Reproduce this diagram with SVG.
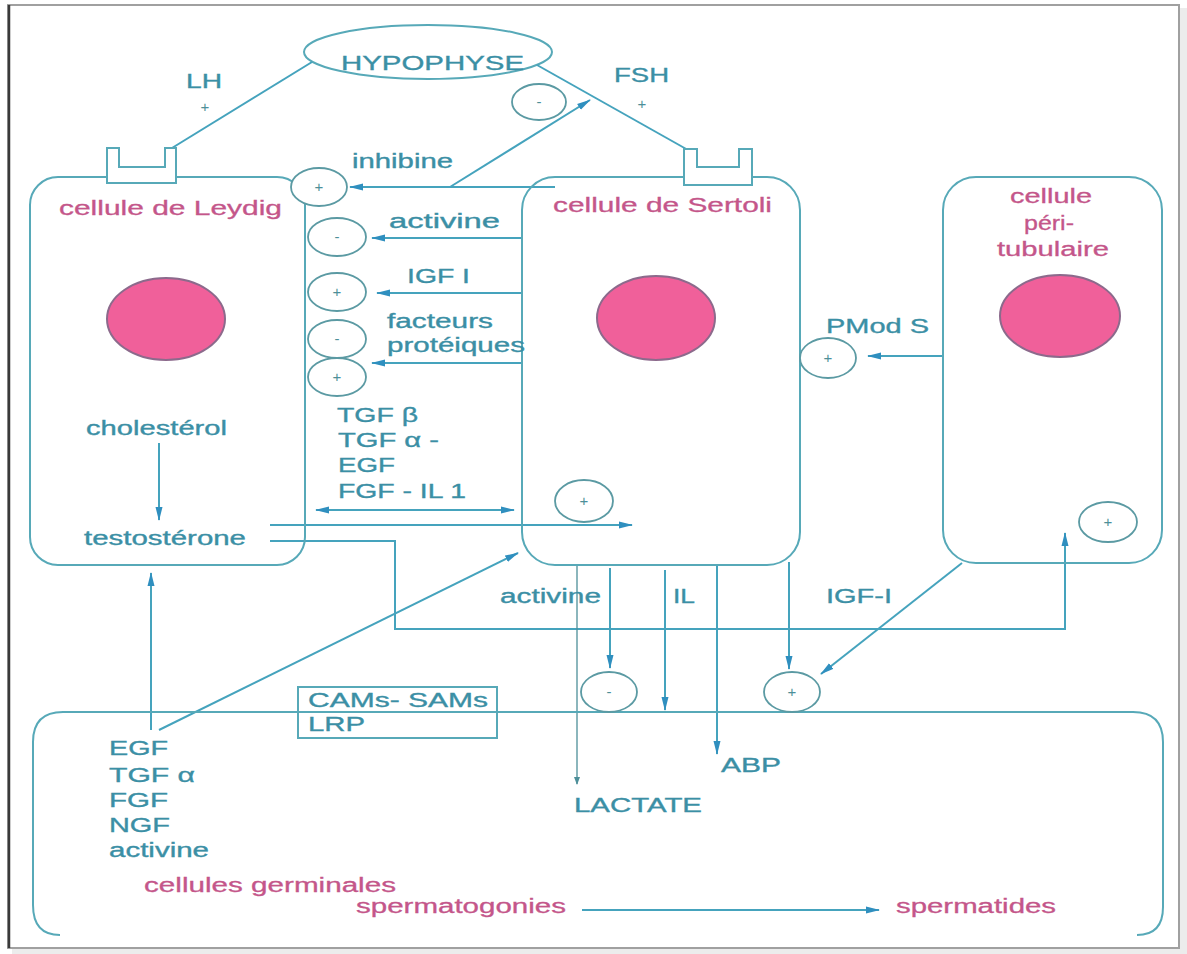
<svg xmlns="http://www.w3.org/2000/svg" width="1187" height="954" viewBox="0 0 1187 954">
<defs>
<style>
.t{font-family:"Liberation Sans",Arial,sans-serif;font-size:20px;fill:#3b8fa5;stroke:#3b8fa5;stroke-width:0.35}
.p{font-family:"Liberation Sans",Arial,sans-serif;font-size:20px;fill:#c4568a;stroke:#c4568a;stroke-width:0.3}
.s{font-family:"Liberation Sans",Arial,sans-serif;font-size:15px;fill:#4d8f99;text-anchor:middle}
.cell{fill:none;stroke:#57a9b8;stroke-width:2}
.ln{fill:none;stroke:#45a3bd;stroke-width:2}
.ar{fill:none;stroke:#45a3bd;stroke-width:2;marker-end:url(#ah)}
.cir{fill:#fff;stroke:#5b9aa3;stroke-width:1.8}
.nuc{fill:#f0609a;stroke:#8c6a8c;stroke-width:2}
</style>
<marker id="ah" markerWidth="14" markerHeight="8" refX="13" refY="4" orient="auto-start-reverse" markerUnits="userSpaceOnUse"><path d="M0,0.5 L14,4 L0,7.5 z" fill="#2f8fbf"/></marker>
<marker id="ahs" markerWidth="8" markerHeight="6" refX="7" refY="3" orient="auto" markerUnits="userSpaceOnUse"><path d="M0,0 L8,3 L0,6 z" fill="#4d8f99"/></marker>
</defs>
<rect x="0" y="0" width="1187" height="954" fill="#fff"/>
<rect x="1180" y="8" width="7" height="946" fill="#ececec"/>
<rect x="12" y="949" width="1175" height="5" fill="#ececec"/>
<rect x="8" y="5" width="1171" height="943" fill="#fff" stroke="#a0a0a0" stroke-width="2"/>
<line x1="9" y1="5" x2="9" y2="948" stroke="#3a3a3a" stroke-width="2.5"/>

<g id="hypophyse">
<ellipse cx="428" cy="52" rx="124" ry="27" class="cell"/>
<text class="t" x="341" y="70" font-size="23" textLength="183" lengthAdjust="spacingAndGlyphs" fill="#33879c">HYPOPHYSE</text>
</g>

<g id="connectors">
<line x1="312" y1="62" x2="172" y2="148" class="ln"/>
<line x1="537" y1="65" x2="688" y2="150" class="ln"/>
<line x1="555" y1="187" x2="350" y2="187" class="ar"/>
<line x1="450" y1="187" x2="590" y2="100" class="ar"/>
<line x1="522" y1="238" x2="372" y2="238" class="ar"/>
<line x1="522" y1="293" x2="377" y2="293" class="ar"/>
<line x1="522" y1="363" x2="372" y2="363" class="ar"/>
<line x1="316" y1="510" x2="514" y2="510" class="ln" marker-start="url(#ah)" marker-end="url(#ah)"/>
<line x1="270" y1="525" x2="632" y2="525" class="ar"/>
<polyline points="270,541 395,541 395,629 1065,629 1065,533" class="ar"/>
<line x1="159" y1="443" x2="159" y2="520" class="ar"/>
<line x1="151" y1="730" x2="151" y2="573" class="ar"/>
<line x1="159" y1="730" x2="518" y2="553" class="ar"/>
<line x1="577" y1="565" x2="577" y2="784" fill="none" stroke="#4d8f99" stroke-width="1.3" marker-end="url(#ahs)"/>
<line x1="610" y1="568" x2="610" y2="668" class="ar"/>
<line x1="665" y1="570" x2="665" y2="710" class="ar"/>
<line x1="717" y1="565" x2="717" y2="754" class="ar"/>
<line x1="789" y1="562" x2="789" y2="669" class="ar"/>
<line x1="962" y1="563" x2="821" y2="674" class="ar"/>
<line x1="943" y1="356" x2="868" y2="356" class="ar"/>
<line x1="582" y1="910" x2="879" y2="910" class="ar"/>
</g>

<g id="leydig">
<rect x="30" y="177" width="275" height="388" rx="28" ry="28" class="cell"/>
<path d="M107,183 V148 H119 V167 H165 V148 H176 V183 Z" fill="#fff" stroke="#57a9b8" stroke-width="2"/>
<ellipse cx="166" cy="319" rx="59" ry="41" class="nuc"/>
<text class="p" x="59" y="215" textLength="223" lengthAdjust="spacingAndGlyphs">cellule de Leydig</text>
<text class="t" x="86" y="435" textLength="141" lengthAdjust="spacingAndGlyphs">cholestérol</text>
<text class="t" x="84" y="545" textLength="162" lengthAdjust="spacingAndGlyphs">testostérone</text>
</g>

<g id="sertoli">
<rect x="522" y="177" width="278" height="388" rx="33" ry="33" class="cell"/>
<path d="M684,185 V149 H697 V167 H739 V149 H752 V185 Z" fill="#fff" stroke="#57a9b8" stroke-width="2"/>
<ellipse cx="656" cy="318" rx="59" ry="42" class="nuc"/>
<text class="p" x="553" y="212" textLength="219" lengthAdjust="spacingAndGlyphs">cellule de Sertoli</text>
</g>

<g id="peritubulaire">
<rect x="943" y="177" width="219" height="386" rx="33" ry="33" class="cell"/>
<ellipse cx="1060" cy="316" rx="60" ry="41" class="nuc"/>
<text class="p" x="1010" y="203" textLength="82" lengthAdjust="spacingAndGlyphs">cellule</text>
<text class="p" x="1024" y="230" textLength="50" lengthAdjust="spacingAndGlyphs">péri-</text>
<text class="p" x="997" y="256" textLength="112" lengthAdjust="spacingAndGlyphs">tubulaire</text>
</g>

<g id="germinales">
<path d="M60,935 Q33,935 33,905 V742 Q33,712 63,712 H1133 Q1163,712 1163,742 V907 Q1163,935 1137,935" class="cell"/>
<text class="t" x="109" y="755" textLength="59" lengthAdjust="spacingAndGlyphs">EGF</text>
<text class="t" x="109" y="782" textLength="86" lengthAdjust="spacingAndGlyphs">TGF α</text>
<text class="t" x="109" y="807" textLength="59" lengthAdjust="spacingAndGlyphs">FGF</text>
<text class="t" x="109" y="832" textLength="61" lengthAdjust="spacingAndGlyphs">NGF</text>
<text class="t" x="109" y="857" textLength="100" lengthAdjust="spacingAndGlyphs">activine</text>
<text class="p" x="144" y="892" textLength="252" lengthAdjust="spacingAndGlyphs">cellules germinales</text>
<text class="p" x="356" y="913" textLength="210" lengthAdjust="spacingAndGlyphs">spermatogonies</text>
<text class="p" x="896" y="913" textLength="160" lengthAdjust="spacingAndGlyphs">spermatides</text>
</g>

<g id="cams">
<rect x="298" y="687" width="199" height="51" fill="none" stroke="#57a9b8" stroke-width="2"/>
<text class="t" x="308" y="707" textLength="180" lengthAdjust="spacingAndGlyphs">CAMs- SAMs</text>
<text class="t" x="308" y="731" textLength="57" lengthAdjust="spacingAndGlyphs">LRP</text>
</g>

<g id="signs">
<ellipse cx="539" cy="102" rx="27" ry="18" class="cir"/><text class="s" x="539" y="107">-</text>
<ellipse cx="319" cy="187" rx="28" ry="19" class="cir"/><text class="s" x="319" y="192">+</text>
<ellipse cx="337" cy="237" rx="29" ry="19" class="cir"/><text class="s" x="337" y="242">-</text>
<ellipse cx="337" cy="292" rx="29" ry="19" class="cir"/><text class="s" x="337" y="297">+</text>
<ellipse cx="337" cy="339" rx="29" ry="19" class="cir"/><text class="s" x="337" y="344">-</text>
<ellipse cx="337" cy="377" rx="29" ry="19" class="cir"/><text class="s" x="337" y="382">+</text>
<ellipse cx="584" cy="501" rx="29" ry="21" class="cir"/><text class="s" x="584" y="506">+</text>
<ellipse cx="828" cy="358" rx="28" ry="20" class="cir"/><text class="s" x="828" y="363">+</text>
<ellipse cx="1108" cy="522" rx="29" ry="20" class="cir"/><text class="s" x="1108" y="527">+</text>
<ellipse cx="609" cy="692" rx="28" ry="20" class="cir"/><text class="s" x="609" y="697">-</text>
<ellipse cx="792" cy="692" rx="28" ry="20" class="cir"/><text class="s" x="792" y="697">+</text>
</g>

<g id="labels">
<text class="t" x="186" y="88" font-size="19" textLength="36" lengthAdjust="spacingAndGlyphs">LH</text>
<text class="s" x="205" y="112" fill="#3b8fa5" font-size="17">+</text>
<text class="t" x="614" y="82" font-size="19" textLength="55" lengthAdjust="spacingAndGlyphs">FSH</text>
<text class="s" x="642" y="109" fill="#3b8fa5" font-size="17">+</text>
<text class="t" x="352" y="168" textLength="101" lengthAdjust="spacingAndGlyphs">inhibine</text>
<text class="t" x="389" y="228" textLength="111" lengthAdjust="spacingAndGlyphs">activine</text>
<text class="t" x="407" y="283" textLength="63" lengthAdjust="spacingAndGlyphs">IGF I</text>
<text class="t" x="387" y="328" textLength="106" lengthAdjust="spacingAndGlyphs">facteurs</text>
<text class="t" x="387" y="352" textLength="138" lengthAdjust="spacingAndGlyphs">protéiques</text>
<text class="t" x="337" y="422" textLength="81" lengthAdjust="spacingAndGlyphs">TGF β</text>
<text class="t" x="338" y="447" textLength="101" lengthAdjust="spacingAndGlyphs">TGF α -</text>
<text class="t" x="338" y="472" textLength="57" lengthAdjust="spacingAndGlyphs">EGF</text>
<text class="t" x="338" y="498" textLength="128" lengthAdjust="spacingAndGlyphs">FGF - IL 1</text>
<text class="t" x="826" y="333" textLength="103" lengthAdjust="spacingAndGlyphs">PMod S</text>
<text class="t" x="500" y="603" textLength="101" lengthAdjust="spacingAndGlyphs">activine</text>
<text class="t" x="673" y="603" textLength="22" lengthAdjust="spacingAndGlyphs">IL</text>
<text class="t" x="826" y="603" textLength="66" lengthAdjust="spacingAndGlyphs">IGF-I</text>
<text class="t" x="721" y="772" textLength="60" lengthAdjust="spacingAndGlyphs">ABP</text>
<text class="t" x="574" y="812" textLength="128" lengthAdjust="spacingAndGlyphs">LACTATE</text>
</g>
</svg>
